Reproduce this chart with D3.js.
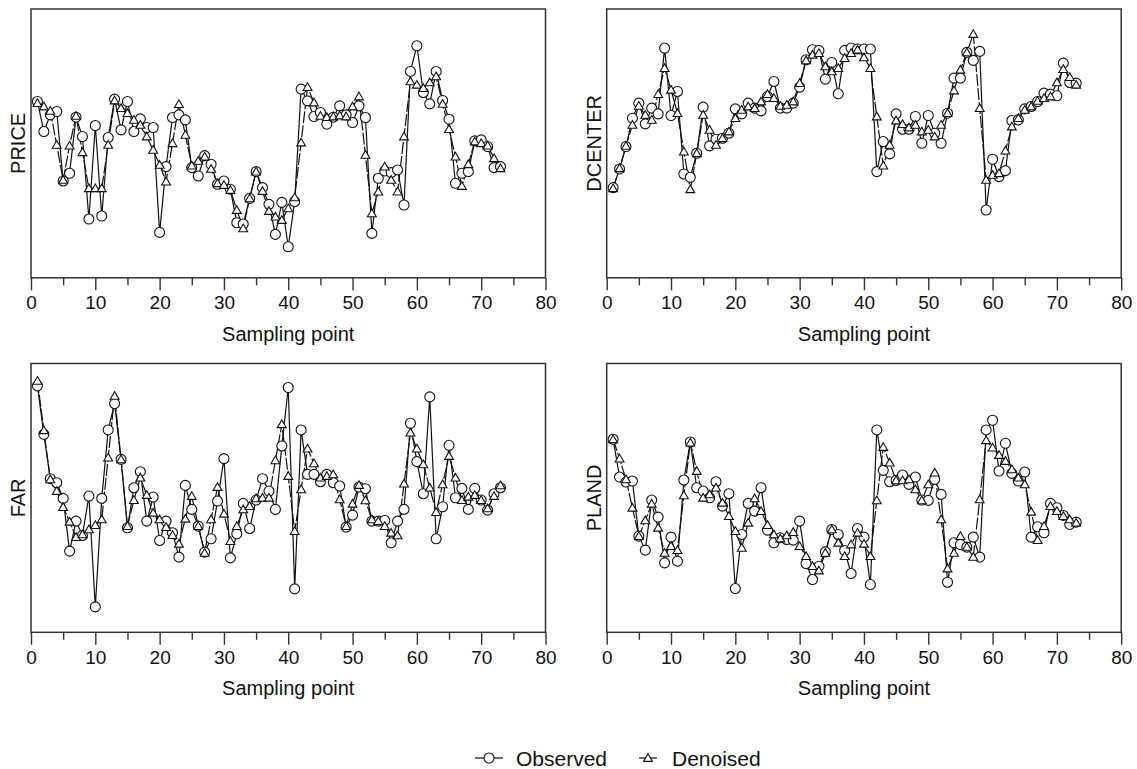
<!DOCTYPE html>
<html>
<head>
<meta charset="utf-8">
<script src="https://cdn.jsdelivr.net/npm/d3@7"></script>
<style>
    body { margin: 0; background: #fff; }
    svg { display: block; font-family: "Liberation Sans", Arial, Helvetica, sans-serif; }
    .box { fill: none; stroke: #333; stroke-width: 1.5; }
    .axis path { display: none; }
    .axis line { stroke: #333; stroke-width: 1.4; }
    .axis text { font-size: 19px; fill: #111; }
    .obs-line { fill: none; stroke: #111; stroke-width: 1.2; }
    .den-line { fill: none; stroke: #111; stroke-width: 1.2; stroke-dasharray: 12,2; }
    .obs { fill: #fff; stroke: #111; stroke-width: 1.1; }
    .den { fill: #fff; stroke: #111; stroke-width: 1.1; }
</style>
</head>
<body>
<svg id="chart" width="1137" height="769"></svg>
<script>
// Sampling points 1..73, values in arbitrary (relative) units
const samplingPoints = d3.range(1, 74);
const xTicks = [0, 10, 20, 30, 40, 50, 60, 70, 80];
const xMinorTicks = [5, 15, 25, 35, 45, 55, 65, 75];
const panelNames = ["PRICE", "DCENTER", "FAR", "PLAND"];

const priceObserved = [528,438,488,498,290,313,481,423,176,456,185,420,535,443,528,438,476,450,450,136,
    333,480,488,473,330,305,366,340,280,290,265,165,161,238,318,270,220,130,226,93,
    228,565,530,483,495,460,481,515,488,465,515,480,133,298,320,315,323,218,618,695,
    555,521,618,531,475,283,313,318,410,413,393,330,333];
const priceDenoised = [523,513,500,398,293,396,485,376,268,268,268,398,531,508,493,473,458,423,383,338,
    288,403,520,428,336,350,363,326,283,278,263,203,148,238,318,260,200,183,173,208,
    241,405,571,525,485,481,483,486,483,513,543,368,193,258,333,293,258,423,588,578,
    568,585,603,521,445,363,275,340,408,403,396,358,328];

const dcenterObserved = [270,326,393,478,523,461,508,491,688,486,558,311,301,373,511,395,415,418,433,506,
    491,523,508,500,543,588,508,508,523,571,653,683,681,595,645,551,681,688,685,685,
    685,318,408,371,491,445,445,483,403,486,433,403,493,598,598,675,651,678,203,355,
    303,321,471,473,506,513,528,553,550,545,643,585,583];
const dcenterDenoised = [268,328,395,458,515,488,473,550,628,563,493,378,265,373,488,443,398,418,438,478,
    503,513,508,528,550,538,515,518,528,583,651,668,673,633,618,628,658,673,683,660,
    628,483,336,398,471,460,450,458,438,443,423,458,493,561,623,675,730,508,293,308,
    313,381,453,478,503,513,530,538,543,585,625,601,578];

const farObserved = [738,593,460,448,401,243,333,290,408,76,401,606,685,518,313,433,481,333,405,275,
    333,298,225,440,368,318,240,280,393,520,223,295,386,311,396,460,423,368,558,733,
    130,606,473,473,451,473,448,438,315,351,435,430,333,333,335,268,333,368,626,511,
    415,705,280,376,560,403,431,368,431,396,366,415,433];
const farDenoised = [753,605,458,423,375,331,285,293,308,321,338,523,708,518,318,396,463,411,358,338,
    315,291,265,340,408,318,238,338,435,355,273,318,368,378,401,403,403,515,623,468,
    303,428,550,506,463,468,473,398,318,385,441,395,338,333,318,298,290,445,598,550,
    503,433,360,443,528,463,396,406,411,396,371,408,440];

const plandObserved = [578,465,450,453,288,246,396,345,208,285,213,456,570,433,423,403,451,378,415,131,
    293,386,363,433,306,268,283,278,276,333,206,158,198,241,308,293,245,176,311,285,
    143,606,485,451,455,471,443,465,396,395,458,413,150,268,263,255,285,225,606,635,
    483,566,476,453,480,285,316,298,386,373,350,323,330];
const plandDenoised = [578,520,458,373,288,335,385,313,238,258,246,410,568,483,403,413,433,388,348,303,
    253,328,401,363,321,293,281,290,300,258,228,198,185,238,308,268,228,263,298,265,
    228,395,555,508,455,455,458,428,395,443,478,338,191,238,288,256,226,398,575,553,
    531,513,488,463,443,361,276,318,378,363,348,338,328];

const observedSeries = [priceObserved, dcenterObserved, farObserved, plandObserved];
const denoisedSeries = [priceDenoised, dcenterDenoised, farDenoised, plandDenoised];

// Layout of the 2x2 grid
const panelWidth  = 514.5;
const panelHeight = 268.8;
const panelLeft   = [31, 606.7];
const panelTop    = [9, 363.5];

const svg = d3.select("#chart");

const x = d3.scaleLinear().domain([0, 80]).range([0, panelWidth]);
const y = d3.scaleLinear().domain([0, 805]).range([panelHeight, 0]);

const triangle = d3.symbol().type(d3.symbolTriangle).size(34);

panelNames.forEach((name, k) => {
    const col = k % 2;
    const row = Math.floor(k / 2);

    const g = svg.append("g")
        .attr("transform", `translate(${panelLeft[col]},${panelTop[row]})`);

    // Minor ticks without labels
    g.append("g")
        .attr("class", "axis")
        .attr("transform", `translate(0,${panelHeight})`)
        .call(d3.axisBottom(x).tickValues(xMinorTicks).tickSize(7.5).tickFormat(""));

    // Major ticks
    g.append("g")
        .attr("class", "axis")
        .attr("transform", `translate(0,${panelHeight})`)
        .call(d3.axisBottom(x).tickValues(xTicks).tickSize(12.5).tickPadding(5.5));

    g.append("text")
        .attr("x", panelWidth / 2)
        .attr("y", panelHeight + 63)
        .attr("text-anchor", "middle")
        .attr("font-size", 20)
        .attr("fill", "#111")
        .text("Sampling point");

    g.append("text")
        .attr("transform", `translate(${-6},${panelHeight / 2}) rotate(-90)`)
        .attr("text-anchor", "middle")
        .attr("font-size", 20)
        .attr("fill", "#111")
        .text(name);

    const obs = observedSeries[k];
    const den = denoisedSeries[k];

    const line = d3.line()
        .x((d, i) => x(samplingPoints[i]))
        .y(d => y(d));

    g.append("path").attr("class", "obs-line").attr("d", line(obs));
    g.append("path").attr("class", "den-line").attr("d", line(den));

    g.selectAll("circle.obs")
        .data(obs)
        .join("circle")
        .attr("class", "obs")
        .attr("cx", (d, i) => x(samplingPoints[i]))
        .attr("cy", d => y(d))
        .attr("r", 5);

    g.selectAll("path.den")
        .data(den)
        .join("path")
        .attr("class", "den")
        .attr("transform", (d, i) => `translate(${x(samplingPoints[i])},${y(d) + 0.8})`)
        .attr("d", triangle);

    g.append("rect")
        .attr("class", "box")
        .attr("width", panelWidth)
        .attr("height", panelHeight);
});

// Legend
const legend = svg.append("g").attr("transform", "translate(475,758)");
const legendItems = [
    {label: "Observed", x: 0, w: 28, tx: 41},
    {label: "Denoised", x: 164, w: 18, tx: 197}
];

legendItems.forEach((item, i) => {
    const lg = legend.append("g").attr("transform", `translate(${item.x},0)`);
    lg.append("line")
        .attr("x1", 0).attr("x2", item.w)
        .attr("y1", 0).attr("y2", 0)
        .attr("stroke", "#111").attr("stroke-width", 1.2);
    if (i === 0) {
        lg.append("circle").attr("class", "obs").attr("cx", item.w / 2).attr("r", 5);
    } else {
        lg.append("path").attr("class", "den")
            .attr("transform", `translate(${item.w / 2},0.8)`)
            .attr("d", triangle);
    }
    lg.append("text")
        .attr("x", item.tx - item.x)
        .attr("y", 0)
        .attr("dy", "0.36em")
        .attr("font-size", 21)
        .attr("fill", "#111")
        .text(item.label);
});
</script>
</body>
</html>
